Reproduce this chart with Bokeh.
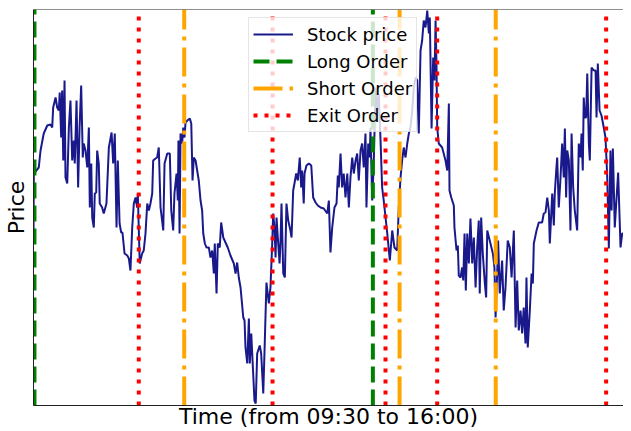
from bokeh.plotting import figure
from bokeh.models import Legend, LegendItem, Range1d, Span
from bokeh.embed import file_html
from bokeh.resources import INLINE

# minutes since 09:30 (visible part of the session)
minutes = [
    0.0, 0.2, 3.3, 4.4, 6.4, 8.6, 10.6, 11.7, 12.3, 13.8,
    14.8, 15.8, 16.4, 17.3, 17.9, 18.6, 19.4, 20.0, 21.1, 22.1,
    23.1, 24.2, 25.2, 25.8, 26.9, 27.9, 28.8, 29.8, 30.8, 31.4,
    32.5, 33.6, 34.6, 35.2, 36.1, 36.7, 37.7, 38.3, 39.2, 39.8,
    40.8, 41.4, 42.9, 43.9, 45.6, 47.1, 48.8, 49.8, 50.8, 51.9,
    52.7, 53.8, 54.8, 55.6, 56.9, 58.6, 59.6, 60.6, 61.7, 62.7,
    63.8, 64.8, 65.2, 66.4, 67.9, 68.9, 70.0, 71.1, 72.1, 73.1,
    74.2, 74.8, 76.3, 77.3, 78.3, 79.4, 81.1, 81.9, 83.6, 85.2,
    86.1, 87.3, 88.1, 89.4, 90.2, 90.6, 91.3, 91.9, 92.9, 93.6,
    94.4, 95.0, 96.1, 97.7, 98.6, 99.4, 100.2, 101.3, 103.3, 104.4,
    105.4, 106.1, 107.1, 108.1, 109.6, 110.6, 111.7, 112.7, 113.3, 114.4,
    115.2, 116.4, 117.3, 118.6, 120.0, 121.4, 123.1, 125.2, 126.3, 127.3,
    128.3, 129.4, 131.1, 131.9, 132.5, 133.6, 134.6, 135.2, 136.1, 137.3,
    138.1, 138.9, 139.8, 141.4, 142.3, 143.6, 144.4, 145.6, 147.1, 148.1,
    149.2, 149.8, 150.6, 151.3, 151.9, 152.7, 153.8, 154.4, 155.0, 156.1,
    157.1, 158.1, 159.2, 160.6, 161.3, 162.3, 163.1, 164.2, 165.2, 166.4,
    167.3, 167.9, 168.9, 169.4, 170.6, 172.1, 173.6, 174.8, 176.3, 177.7,
    179.4, 181.4, 183.6, 184.6, 185.6, 186.7, 188.1, 189.4, 190.2, 190.8,
    191.9, 192.9, 193.9, 195.0, 196.1, 197.1, 198.1, 199.2, 200.2, 201.3,
    202.3, 203.3, 204.4, 205.4, 206.4, 207.5, 208.1, 209.2, 210.2, 210.6,
    211.7, 212.7, 213.8, 214.8, 215.8, 216.9, 217.9, 218.9, 221.1, 222.7,
    224.2, 225.6, 227.3, 228.3, 229.4, 230.4, 231.4, 232.5, 233.6, 234.6,
    235.6, 236.7, 237.7, 238.8, 239.8, 240.8, 241.9, 242.9, 243.9, 245.0,
    246.1, 247.1, 247.7, 248.8, 249.8, 250.6, 251.3, 251.9, 252.3, 253.3,
    255.4, 257.5, 258.6, 259.6, 260.0, 261.1, 262.7, 263.1, 264.4, 265.2,
    265.8, 266.9, 267.9, 268.6, 269.4, 270.2, 271.1, 272.1, 273.1, 274.2,
    275.2, 276.3, 277.3, 278.3, 278.9, 279.8, 280.8, 282.1, 282.9, 283.6,
    285.6, 287.1, 288.1, 288.8, 289.8, 290.4, 291.4, 292.9, 293.9, 295.0,
    296.4, 297.7, 298.8, 300.2, 301.3, 302.3, 303.3, 304.4, 305.4, 306.4,
    307.5, 308.1, 308.9, 310.2, 311.3, 312.1, 312.7, 314.4, 315.8, 317.9,
    318.9, 320.0, 321.1, 322.1, 322.7, 324.2, 325.2, 325.8, 326.7, 327.3,
    328.3, 329.4, 330.4, 331.4, 332.1, 332.9, 333.6, 334.6, 335.6, 336.3,
    337.3, 338.3, 339.8, 340.8, 341.9, 342.5, 343.3, 343.9, 344.6, 345.4,
    346.1, 347.1, 347.7, 348.8, 350.2, 351.3, 351.9, 352.7, 353.8, 355.0,
    356.4, 357.5, 358.6, 359.6, 360.6, 361.3, 362.1, 363.3, 364.2, 365.4,
    366.9, 367.9, 368.9, 370.0, 371.1, 372.1, 373.8,
]

stock_price = [
    48.00, 51.35, 51.65, 52.50, 53.35, 53.75, 53.80, 53.65, 54.65, 55.15,
    54.65, 54.50, 55.40, 53.15, 55.50, 52.00, 56.00, 51.15, 50.85, 53.65,
    55.00, 52.00, 53.00, 51.85, 55.00, 50.65, 53.65, 55.75, 52.15, 52.85,
    52.50, 51.65, 53.65, 49.65, 51.85, 49.15, 48.65, 50.35, 50.40, 52.50,
    51.85, 49.85, 49.65, 49.35, 49.85, 52.65, 53.40, 51.85, 53.35, 48.65,
    52.00, 48.85, 48.40, 48.40, 47.35, 47.25, 47.10, 46.50, 48.65, 49.85,
    50.15, 49.65, 50.35, 46.85, 47.35, 47.50, 48.35, 49.85, 49.50, 49.85,
    50.35, 52.00, 52.10, 52.15, 52.65, 49.65, 48.50, 51.85, 52.35, 52.35,
    49.50, 48.50, 50.35, 51.35, 50.00, 53.00, 48.35, 53.35, 52.85, 53.65,
    53.15, 53.90, 54.00, 54.10, 53.85, 51.00, 52.15, 52.00, 51.00, 50.00,
    49.50, 48.35, 47.85, 47.65, 47.65, 47.15, 47.50, 46.35, 47.85, 45.35,
    47.85, 47.65, 48.90, 48.15, 47.90, 47.65, 47.25, 46.85, 46.35, 46.90,
    46.15, 45.65, 44.15, 44.00, 42.65, 41.85, 44.10, 41.85, 43.35, 41.35,
    40.00, 39.85, 42.35, 42.75, 42.35, 40.35, 42.50, 45.90, 44.85, 45.65,
    47.85, 49.35, 48.65, 47.15, 49.15, 48.15, 46.85, 48.00, 49.85, 46.35,
    46.15, 49.85, 49.00, 48.50, 48.15, 50.50, 50.85, 51.35, 51.00, 52.15,
    50.65, 51.50, 49.85, 51.35, 51.75, 51.85, 51.75, 50.15, 49.90, 49.75,
    49.65, 49.60, 49.35, 50.00, 47.40, 48.65, 49.65, 49.85, 51.25, 50.65,
    52.35, 50.65, 51.35, 50.15, 51.35, 49.65, 51.15, 52.15, 51.35, 52.00,
    52.35, 51.00, 52.50, 52.85, 51.65, 53.35, 49.65, 52.85, 52.15, 53.65,
    50.00, 52.00, 55.65, 54.50, 55.35, 53.00, 50.65, 50.00, 48.35, 47.00,
    48.50, 47.65, 47.50, 49.65, 51.15, 52.00, 52.65, 52.15, 52.85, 53.35,
    53.65, 54.50, 55.65, 56.15, 56.00, 53.35, 57.50, 58.00, 59.00, 58.65,
    59.50, 58.35, 59.15, 53.60, 57.15, 56.00, 59.00, 56.65, 53.65, 52.85,
    52.65, 52.00, 51.50, 54.85, 50.50, 50.15, 49.75, 48.65, 47.50, 47.75,
    46.25, 46.15, 46.65, 46.00, 48.35, 45.50, 48.35, 46.85, 49.10, 46.85,
    48.15, 45.65, 47.65, 49.00, 45.35, 49.15, 47.35, 45.85, 45.15, 48.50,
    47.85, 47.35, 46.65, 44.15, 46.35, 48.00, 45.35, 47.00, 44.50, 45.65,
    48.00, 47.65, 46.15, 48.50, 43.65, 46.00, 43.50, 44.50, 43.35, 44.65,
    42.85, 46.15, 42.65, 44.50, 46.35, 45.85, 47.85, 48.50, 48.90, 48.90,
    49.35, 49.40, 50.15, 49.50, 47.85, 50.35, 48.75, 50.35, 51.50, 52.15,
    49.65, 51.15, 52.85, 51.15, 53.60, 50.15, 52.50, 52.00, 48.50, 53.35,
    50.65, 49.50, 48.50, 52.85, 52.15, 53.35, 51.50, 55.15, 54.15, 54.15,
    56.35, 52.85, 52.00, 56.65, 56.50, 56.50, 54.15, 56.85, 54.50, 54.25,
    53.65, 53.15, 51.15, 47.60, 52.50, 49.50, 52.60, 48.65, 49.85, 51.40,
    47.65, 48.35, 48.35, 47.15, 45.65, 47.15, 48.10,
]

long_orders = [0.6, 212.1]
short_orders = [94.2, 228.8, 288.9]
exit_orders = [65.8, 149.4, 220.0, 252.3, 357.9]

x_start, x_end = 0.0, 368.75
y_min, y_max = 39.75, 59.55

FONT = "DejaVu Sans"

p = figure(frame_width=590, frame_height=396, output_backend="svg", toolbar_location=None,
           x_range=Range1d(x_start, x_end), y_range=Range1d(y_min, y_max),
           x_axis_label="Time (from 09:30 to 16:00)", y_axis_label="Price",
           min_border_left=25, min_border_right=0, min_border_top=9, min_border_bottom=26)
p.grid.visible = False
p.outline_line_color = None
p.background_fill_color = "white"
p.border_fill_color = "white"

for ax in (p.xaxis[0], p.yaxis[0]):
    ax.ticker = []
    ax.major_tick_out = 0
    ax.major_tick_in = 0
    ax.minor_tick_out = 0
    ax.minor_tick_in = 0
    ax.major_label_text_font_size = "0px"
    ax.major_label_standoff = 0
    ax.axis_label_text_font = FONT
    ax.axis_label_text_font_size = "22px"
    ax.axis_label_text_font_style = "normal"
    ax.axis_label_text_color = "black"
    ax.axis_line_color = "#222222"
    ax.axis_line_width = 1
p.xaxis[0].axis_label_standoff = -2
p.yaxis[0].axis_label_standoff = 5

# top spine
p.add_layout(Span(location=y_max, dimension="width", line_color="#222222", line_width=1))

r_price = p.line(minutes, stock_price, line_color="navy", line_alpha=0.9, line_width=2)

r_long = p.segment(x0=long_orders, y0=[y_min] * len(long_orders),
                   x1=long_orders, y1=[y_max] * len(long_orders),
                   line_color="green", line_width=4, line_dash="16 7", line_cap="butt")
r_short = p.segment(x0=short_orders, y0=[y_min] * len(short_orders),
                    x1=short_orders, y1=[y_max] * len(short_orders),
                    line_color="orange", line_width=4, line_dash="29 7 4 7", line_cap="butt")
r_exit = p.segment(x0=exit_orders, y0=[y_min] * len(exit_orders),
                   x1=exit_orders, y1=[y_max] * len(exit_orders),
                   line_color="red", line_width=4, line_dash="4 7", line_cap="butt")

legend = Legend(items=[
    LegendItem(label="Stock price", renderers=[r_price]),
    LegendItem(label="Long Order", renderers=[r_long]),
    LegendItem(label="Short Order", renderers=[r_short]),
    LegendItem(label="Exit Order", renderers=[r_exit]),
], location=(215, 273), orientation="vertical", margin=0, padding=4, spacing=3,
    glyph_width=40, glyph_height=24, label_height=24, label_standoff=14,
    label_text_font=FONT, label_text_font_size="18px", label_text_color="black",
    background_fill_color="white", background_fill_alpha=0.8,
    border_line_color="#cccccc", border_line_width=1)
p.add_layout(legend)

open("out.html", "w").write(file_html(p, INLINE))
